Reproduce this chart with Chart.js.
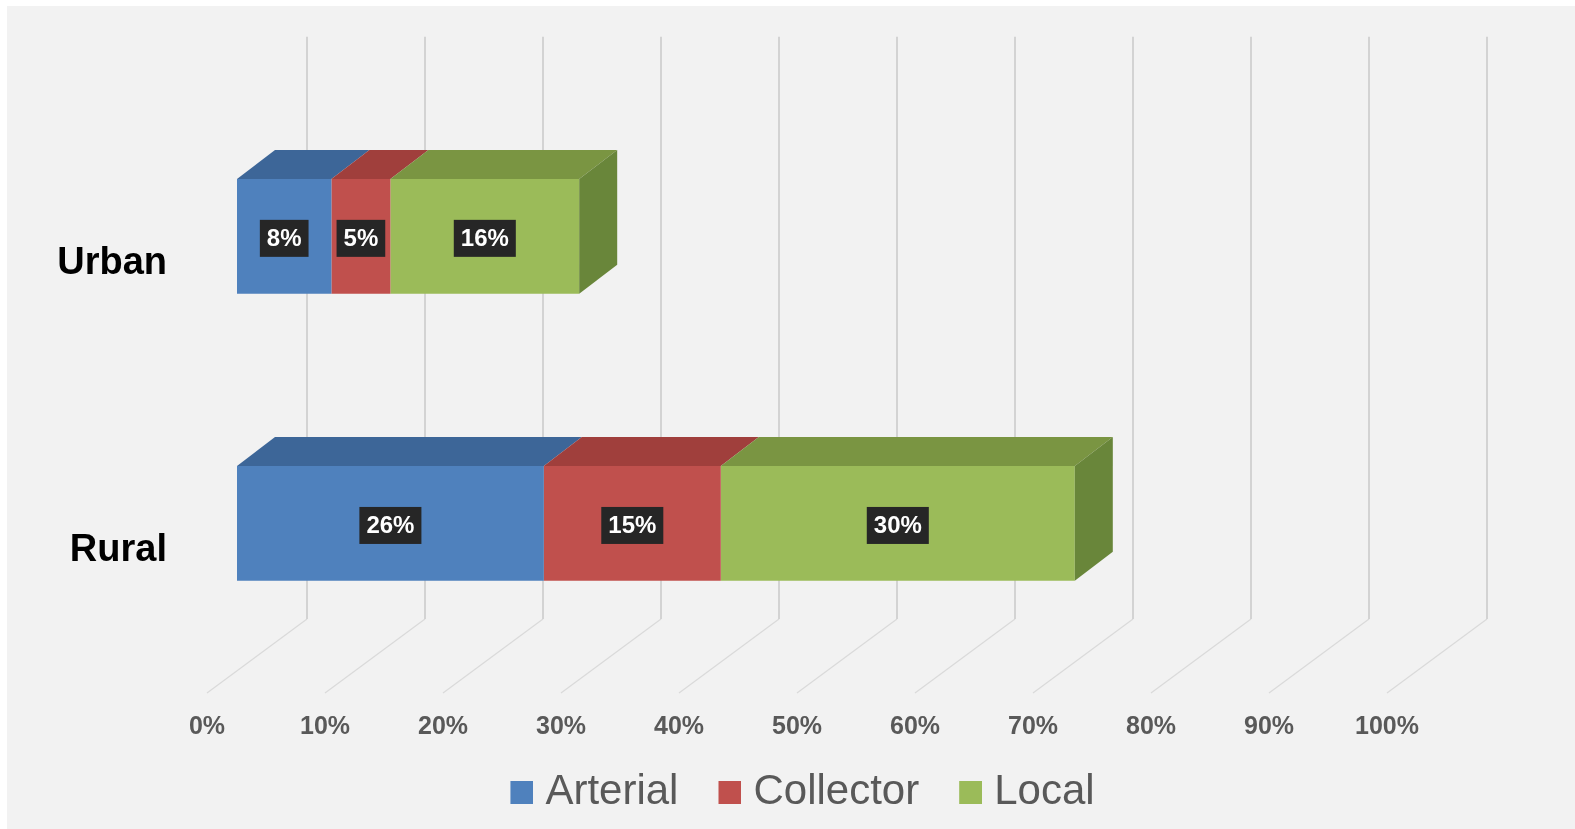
<!DOCTYPE html>
<html>
<head>
<meta charset="utf-8">
<title>Road category shares</title>
<script src="https://cdn.jsdelivr.net/npm/chart.js@4/dist/chart.umd.min.js"></script>
<style>
  html, body { margin: 0; padding: 0; background: #ffffff; }
  #wrap { width: 1575px; height: 829px; position: relative; }
</style>
</head>
<body>
<div id="wrap"><canvas id="chart"></canvas></div>
<script>
// ---- data ----
const categories = ['Urban', 'Rural'];
const seriesNames = ['Arterial', 'Collector', 'Local'];
const arterial = [8, 26];
const collector = [5, 15];
const local = [16, 30];
const axisMin = 0;
const axisMax = 100;
const axisStep = 10;

// ---- styling ----
const FONT = '"Liberation Sans", Arial, sans-serif';
const frontFaces = ['#4f81bd', '#c0504d', '#9bbb59'];
const topFaces = ['#3d6698', '#a03f3c', '#7a9542'];
const sideFaces = ['#375e8d', '#8e3836', '#69863a'];
const DEPTH_X = 38, DEPTH_Y = -29;   // extrusion of each bar
const FRONT_OFF = -30;               // front edge of the floor, relative to the bar plane
const BACK_OFF = 70;                 // back wall, relative to the bar plane

// legend swatch: square placed to the right of the point-style slot
function swatch(color) {
  const c = document.createElement('canvas');
  c.width = 40; c.height = 23;
  const g = c.getContext('2d');
  g.fillStyle = color;
  g.fillRect(17, 0, 23, 23);
  return c;
}
const swatches = frontFaces.map(swatch);

const scene3d = {
  id: 'scene3d',
  beforeDraw(chart) {
    const ctx = chart.ctx;
    ctx.save();
    ctx.fillStyle = '#ffffff';
    ctx.fillRect(0, 0, chart.width, chart.height);
    ctx.fillStyle = '#f2f2f2';
    ctx.fillRect(7, 6, chart.width - 7, chart.height - 6);
    ctx.restore();
  },
  beforeDatasetsDraw(chart) {
    const { ctx, chartArea, scales: { x } } = chart;
    const floorFront = chartArea.bottom + 26;
    const floorBack = floorFront - 74;
    const wallTop = chartArea.top - 56;
    ctx.save();
    x.ticks.forEach(t => {
      const p = x.getPixelForValue(t.value);
      // floor line
      ctx.strokeStyle = '#dadada';
      ctx.lineWidth = 1.2;
      ctx.beginPath();
      ctx.moveTo(p + FRONT_OFF, floorFront);
      ctx.lineTo(p + BACK_OFF, floorBack);
      ctx.stroke();
      // back wall line
      ctx.strokeStyle = '#d3d3d3';
      ctx.lineWidth = 2;
      ctx.beginPath();
      ctx.moveTo(p + BACK_OFF, floorBack);
      ctx.lineTo(p + BACK_OFF, wallTop);
      ctx.stroke();
    });
    ctx.restore();
  },
  afterDatasetsDraw(chart) {
    const ctx = chart.ctx;
    const metas = chart.getSortedVisibleDatasetMetas();
    const last = metas.length - 1;
    ctx.save();
    // top and side faces
    metas.forEach((meta, di) => {
      meta.data.forEach(el => {
        const { x, y, base, height } = el.getProps(['x', 'y', 'base', 'height'], true);
        const l = Math.min(x, base), r = Math.max(x, base);
        const top = y - height / 2, bot = y + height / 2;
        ctx.fillStyle = topFaces[meta.index];
        ctx.beginPath();
        ctx.moveTo(l, top);
        ctx.lineTo(l + DEPTH_X, top + DEPTH_Y);
        ctx.lineTo(r + DEPTH_X, top + DEPTH_Y);
        ctx.lineTo(r, top);
        ctx.closePath();
        ctx.fill();
        if (di === last) {
          ctx.fillStyle = sideFaces[meta.index];
          ctx.beginPath();
          ctx.moveTo(r, top);
          ctx.lineTo(r + DEPTH_X, top + DEPTH_Y);
          ctx.lineTo(r + DEPTH_X, bot + DEPTH_Y);
          ctx.lineTo(r, bot);
          ctx.closePath();
          ctx.fill();
        }
      });
    });
    // value labels
    ctx.font = 'bold 24px ' + FONT;
    ctx.textAlign = 'center';
    ctx.textBaseline = 'middle';
    metas.forEach(meta => {
      const values = chart.data.datasets[meta.index].data;
      meta.data.forEach((el, i) => {
        const { x, y, base } = el.getProps(['x', 'y', 'base'], true);
        const text = values[i] + '%';
        const w = ctx.measureText(text).width + 14, h = 37;
        const cx = (x + base) / 2, cy = y + 2;
        ctx.fillStyle = '#262626';
        ctx.fillRect(cx - w / 2, cy - h / 2, w, h);
        ctx.fillStyle = '#ffffff';
        ctx.fillText(text, cx, cy + 1);
      });
    });
    ctx.restore();
  }
};

const seriesValues = [arterial, collector, local];

new Chart(document.getElementById('chart'), {
  type: 'bar',
  data: {
    labels: categories,
    datasets: seriesNames.map((name, i) => ({
      label: name,
      data: seriesValues[i],
      backgroundColor: frontFaces[i],
      borderWidth: 0,
      categoryPercentage: 1,
      barPercentage: 0.4
    }))
  },
  options: {
    indexAxis: 'y',
    responsive: true,
    maintainAspectRatio: false,
    animation: false,
    events: [],
    layout: { padding: { top: 89, left: 22, right: 0, bottom: 6 } },
    scales: {
      x: {
        stacked: true,
        min: axisMin,
        max: axisMax,
        grid: { display: false, drawTicks: false },
        border: { display: false },
        ticks: {
          stepSize: axisStep,
          padding: 45,
          labelOffset: FRONT_OFF,
          color: '#595959',
          font: { family: FONT, size: 25, weight: 'bold' },
          callback: v => v + '%'
        },
        afterFit: s => { s.height = 72; }
      },
      y: {
        stacked: true,
        grid: { display: false, drawTicks: false },
        border: { display: false },
        ticks: {
          padding: 70,
          labelOffset: 27,
          color: '#000000',
          font: { family: FONT, size: 38, weight: 'bold' }
        },
        afterFit: s => { s.width = 215; }
      },
      depthSpace: {
        type: 'linear',
        position: 'right',
        display: true,
        grid: { display: false, drawTicks: false },
        border: { display: false },
        ticks: { display: false },
        afterFit: s => { s.width = 158; }
      }
    },
    plugins: {
      tooltip: { enabled: false },
      legend: {
        position: 'bottom',
        labels: {
          usePointStyle: true,
          boxWidth: 22,
          boxHeight: 22,
          padding: 32,
          color: '#595959',
          font: { family: FONT, size: 42 },
          generateLabels(chart) {
            const items = Chart.defaults.plugins.legend.labels.generateLabels(chart);
            items.forEach(it => { it.pointStyle = swatches[it.datasetIndex]; });
            return items;
          }
        }
      }
    }
  },
  plugins: [scene3d]
});
</script>
</body>
</html>
